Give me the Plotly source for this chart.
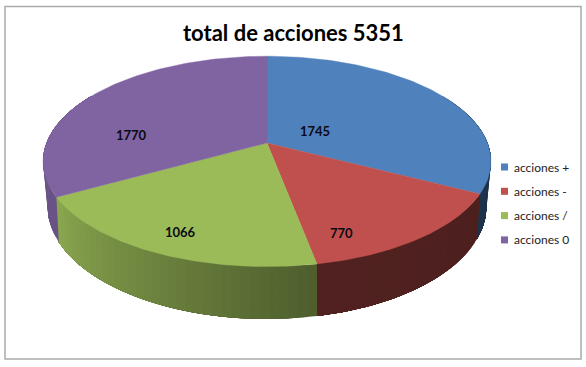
import numpy as np
import plotly.graph_objects as go

categories = ["acciones +", "acciones -", "acciones /", "acciones 0"]
values = [1745, 770, 1066, 1770]
top_colors = ["#4F81BD", "#C0504D", "#9BBB59", "#8064A2"]
title_text = "total de acciones 5351"
FONT = "Lato, Carlito, Calibri, sans-serif"

CX = 267
TOP = dict(cy=143, R=220.5, S=102, k=0.175)
BOT = dict(cy=184, R=215, S=108, k=0.20)


def project(theta_deg, g):
    t = np.radians(theta_deg)
    u, v = np.sin(t), np.cos(t)
    w = 1 + g["k"] * v
    return CX + g["R"] * u / w, g["cy"] - g["S"] * v / w


def shade_factor(theta):
    return np.interp(theta, [60, 117, 169, 169.01, 241, 241.01, 300],
                     [0.36, 0.40, 0.42, 0.50, 0.90, 0.82, 0.90])


def shade(hex_color, f):
    rgb = [int(hex_color[i:i + 2], 16) for i in (1, 3, 5)]
    return "rgb(%d,%d,%d)" % tuple(int(c * f) for c in rgb)


edges = np.concatenate([[0], np.cumsum(values)]) / sum(values) * 360
fig = go.Figure()

# side wall: overlapping bands, each reaching to the end of its slice, so no seams show
for i, col in enumerate(top_colors):
    a0, a1 = max(edges[i], 60), min(edges[i + 1], 300)
    if a1 <= a0:
        continue
    steps = np.linspace(a0, a1, max(2, int((a1 - a0) / 2) + 1))
    for s0, s1 in zip(steps[:-1], steps[1:]):
        th = np.linspace(s0, a1, 40)
        xt, yt = project(th, TOP)
        xb, yb = project(th[::-1], BOT)
        c = shade(col, shade_factor((s0 + s1) / 2))
        fig.add_trace(go.Scatter(
            x=np.r_[xt, xb], y=np.r_[yt, yb], mode="lines", fill="toself",
            fillcolor=c, line=dict(width=0),
            hoverinfo="skip", showlegend=False))

# top face
for i, (name, col) in enumerate(zip(categories, top_colors)):
    th = np.linspace(edges[i], edges[i + 1], 90)
    x, y = project(th, TOP)
    fig.add_trace(go.Scatter(
        x=np.r_[CX, x, CX], y=np.r_[TOP["cy"], y, TOP["cy"]], mode="lines",
        fill="toself", fillcolor=col, line=dict(color=col, width=0.4),
        name=name, text=str(values[i]), hoverinfo="name+text", showlegend=False))

# data labels
for val, (lx, ly) in zip(values, [(315, 131), (341, 233), (180, 232), (131, 135)]):
    fig.add_annotation(x=lx, y=ly, text=f"<b>{val}</b>", showarrow=False,
                       font=dict(family=FONT, size=13, color="#0a0a14"))

# legend
for i, (name, col) in enumerate(zip(categories, top_colors)):
    ly = 167 + 24.3 * i
    fig.add_shape(type="rect", x0=501, x1=508, y0=ly - 3.5, y1=ly + 3.5,
                  fillcolor=col, line_width=0)
    fig.add_annotation(x=512, y=ly, text=name, showarrow=False, xanchor="left",
                       font=dict(family=FONT, size=12, color="#222222"))

fig.add_annotation(x=293, y=32, text=f"<b>{title_text}</b>", showarrow=False,
                   font=dict(family=FONT, size=22, color="#000000"))

fig.add_shape(type="rect", x0=5, x1=581, y0=6.5, y1=359,
              line=dict(color="#ababab", width=1.5), fillcolor="rgba(0,0,0,0)")

fig.update_layout(
    width=586, height=367, margin=dict(l=0, r=0, t=0, b=0),
    paper_bgcolor="white", plot_bgcolor="white", showlegend=False,
    xaxis=dict(range=[0, 586], visible=False, fixedrange=True),
    yaxis=dict(range=[367, 0], visible=False, fixedrange=True),
)
fig.write_html("out.html", config={"displayModeBar": False},
               post_script="document.body.style.margin='0';document.body.style.overflow='hidden';")
